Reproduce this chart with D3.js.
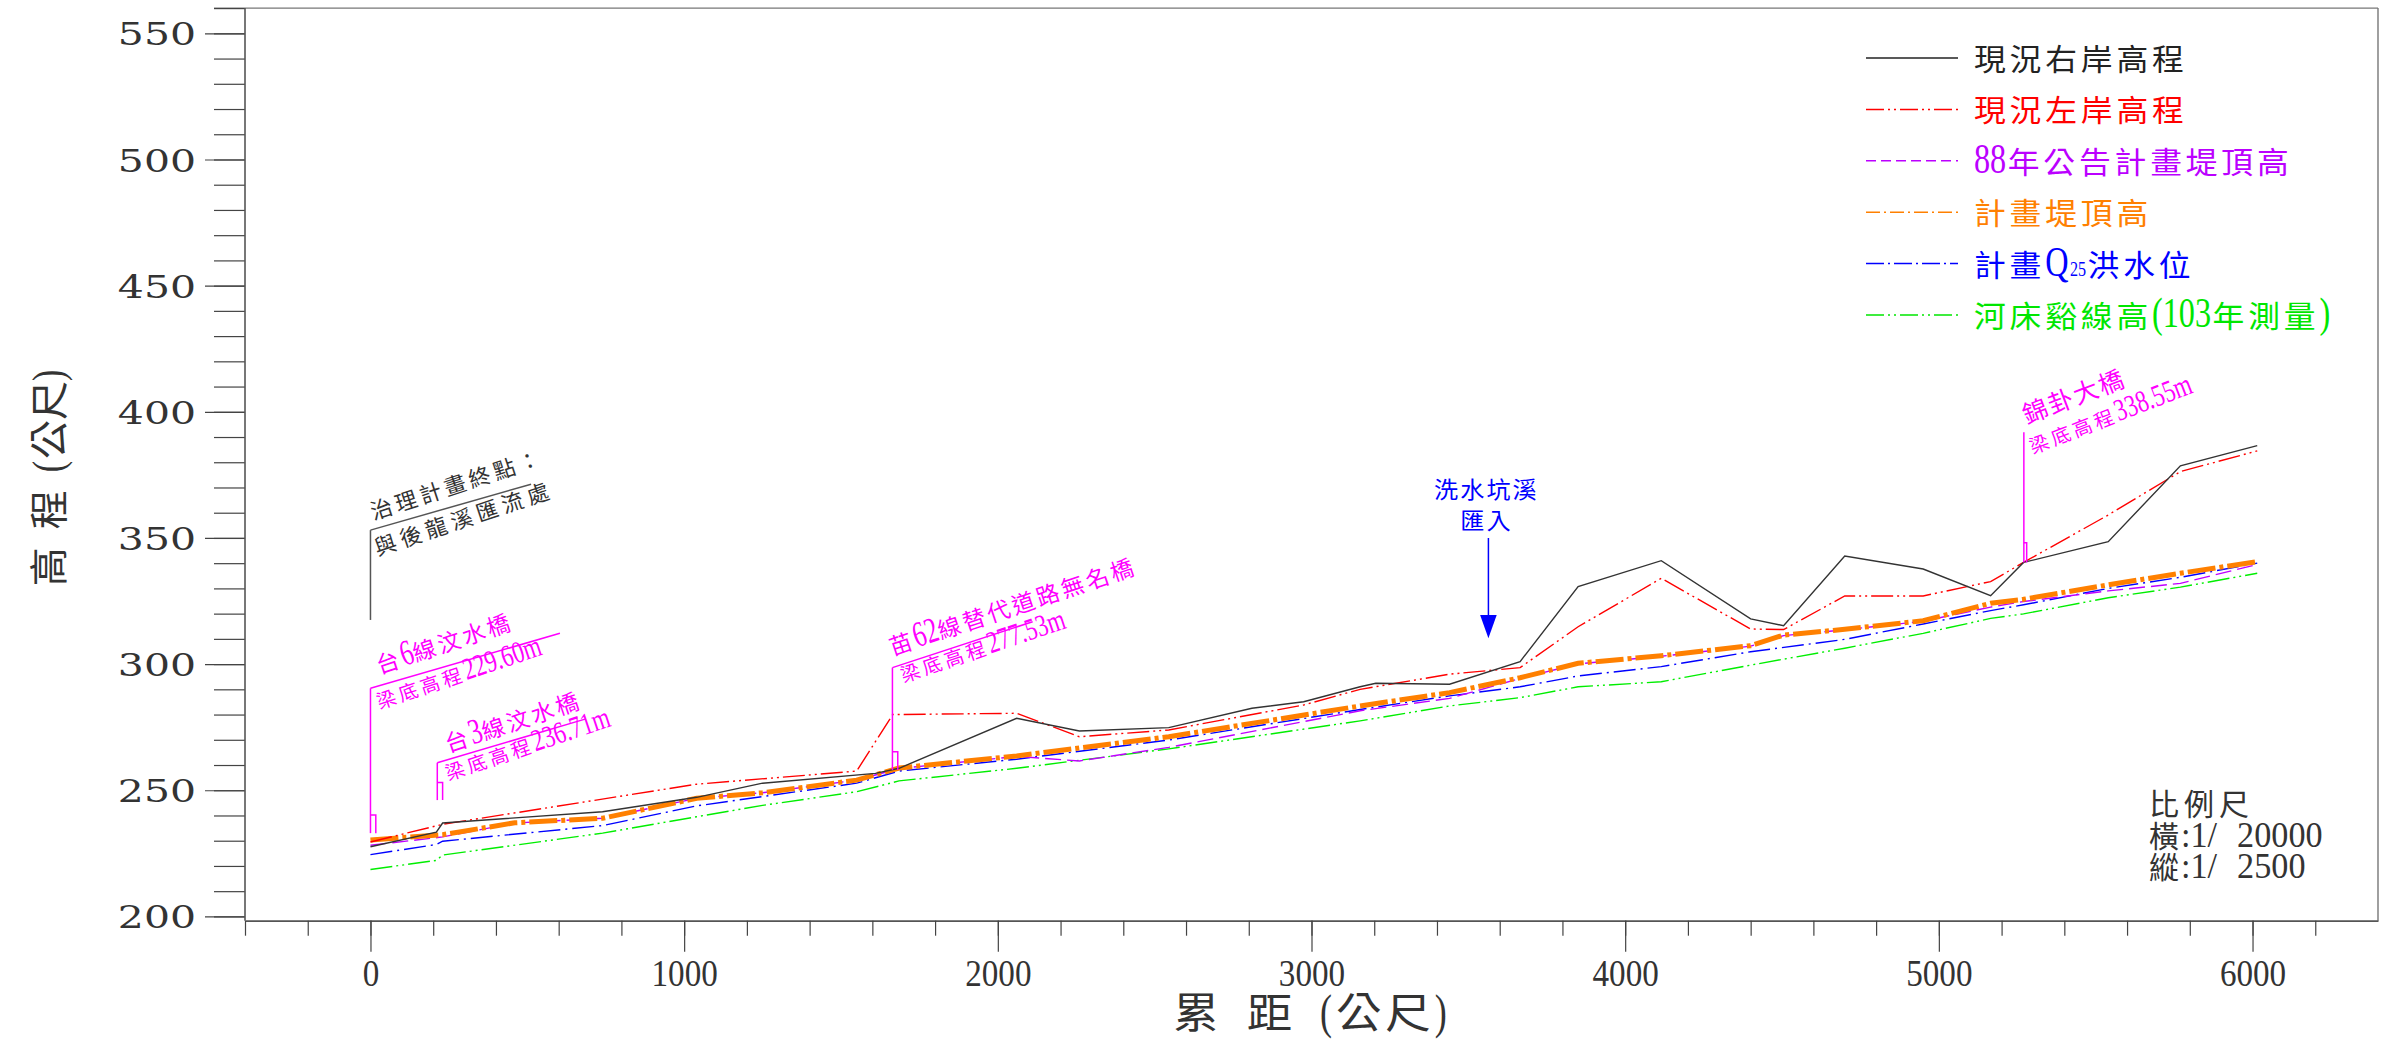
<!DOCTYPE html>
<html><head><meta charset="utf-8">
<script src="https://cdn.jsdelivr.net/npm/d3@7"></script>
<style>html,body{margin:0;padding:0;background:#fff;} svg{display:block;}</style>
</head><body>
<svg id="chart" width="2383" height="1044"></svg>
<script>
// ---------------- DATA ----------------
// 現況右岸高程
const rightBankDist = [0, 210, 230, 740, 1040, 1250, 1610, 1685, 2060, 2260, 2545, 2810, 2975, 3155, 3205, 3440, 3665, 3850, 4115, 4400, 4505, 4700, 4950, 5165, 5270, 5540, 5770, 6015];
const rightBankElev = [227.6, 233.4, 237.0, 241.5, 247.2, 252.8, 256.7, 258.7, 278.5, 273.5, 274.8, 282.5, 285.1, 291.0, 292.4, 292.0, 301.0, 330.7, 341.0, 317.9, 315.2, 342.8, 337.7, 327.1, 340.3, 348.5, 378.6, 386.6];
// 現況左岸高程
const leftBankDist = [0, 230, 1040, 1550, 1665, 2060, 2260, 2545, 2975, 3155, 3440, 3665, 3850, 4115, 4400, 4505, 4700, 4950, 5165, 5270, 5540, 5770, 6015];
const leftBankElev = [229.5, 236.5, 252.4, 257.6, 280.0, 280.5, 271.2, 273.9, 283.8, 290.0, 296.0, 298.6, 314.8, 334.0, 313.9, 313.7, 327.0, 327.0, 332.7, 340.3, 359.1, 376.3, 384.5];
// 88年公告計畫堤頂高
const levee88Dist = [0, 230, 460, 740, 1040, 1250, 1550, 1685, 2060, 2260, 2545, 3155, 3440, 3665, 3850, 4115, 4400, 4505, 4700, 4950, 5165, 5270, 5540, 5770, 6015];
const levee88Elev = [228.2, 231.5, 237.0, 238.9, 246.8, 249.0, 254.0, 258.6, 263.4, 261.6, 267.0, 281.5, 286.4, 294.3, 300.1, 303.1, 307.1, 311.3, 313.6, 317.0, 322.6, 324.8, 329.0, 332.0, 339.5];
// 計畫堤頂高
const leveeDist = [0, 230, 460, 740, 1040, 1250, 1550, 1685, 2060, 2545, 3155, 3440, 3665, 3850, 4115, 4400, 4505, 4700, 4950, 5165, 5270, 5540, 5770, 6015];
const leveeElev = [230.3, 232.4, 237.1, 238.9, 246.8, 249.0, 254.0, 258.8, 263.6, 271.2, 283.4, 288.7, 294.6, 300.3, 303.3, 307.3, 311.5, 313.8, 317.2, 324.1, 325.7, 331.4, 336.0, 340.6];
// 計畫Q25洪水位
const floodDist = [0, 210, 230, 740, 1040, 1250, 1550, 1685, 2060, 2545, 3155, 3440, 3665, 3850, 4115, 4400, 4700, 4950, 5165, 5270, 5540, 5770, 6015];
const floodElev = [224.5, 228.5, 229.8, 236.0, 243.8, 247.5, 252.8, 257.6, 262.3, 269.9, 282.0, 287.4, 291.0, 295.3, 299.0, 304.9, 309.8, 315.9, 321.2, 323.5, 330.0, 334.4, 340.0];
// 河床谿線高(103年測量)
const bedDist = [0, 210, 230, 740, 1040, 1250, 1550, 1685, 2060, 2545, 3155, 3440, 3665, 3850, 4115, 4400, 4700, 4950, 5165, 5270, 5540, 5770, 6015];
const bedElev = [218.6, 222.2, 224.3, 233.0, 239.5, 244.0, 249.4, 253.7, 258.7, 266.4, 277.5, 283.4, 286.7, 291.0, 293.0, 299.6, 306.3, 312.2, 318.1, 319.9, 326.3, 330.5, 336.0];

const legendNames = ['現況右岸高程', '現況左岸高程', '88年公告計畫堤頂高', '計畫堤頂高', '計畫Q_25洪水位', '河床谿線高(103年測量)'];
const yTickValues = [200, 250, 300, 350, 400, 450, 500, 550];
const xTickValues = [0, 1000, 2000, 3000, 4000, 5000, 6000];

const bridgeNames = ['台6線汶水橋', '台3線汶水橋', '苗62線替代道路無名橋', '錦卦大橋'];
const bridgeSoffit = ['梁底高程229.60m', '梁底高程236.71m', '梁底高程277.53m', '梁底高程338.55m'];
const bridgeStation = [0, 213, 1664, 5271];
const endNote = ['治理計畫終點：', '與後龍溪匯流處'];
const tributary = ['洗水坑溪', '匯入'];
const tributaryStation = 3564;
const scaleNote = ['比例尺', '橫:1/ 20000', '縱:1/ 2500'];

// ---------------- LAYOUT / STYLE ----------------
const CJK = "'Noto Sans CJK TC','Noto Sans CJK SC','Noto Sans CJK JP',sans-serif";
const LAT = "'Liberation Serif','DejaVu Serif',serif";

const svg = d3.select('#chart');
svg.append('rect').attr('width', 2383).attr('height', 1044).attr('fill', '#fff');

const x = d3.scaleLinear().domain([-400, 6400]).range([245, 2378]);
const y = d3.scaleLinear().domain([200, 560]).range([916.4, 8.1]);
const AX_Y = 920.7;

function rich(parent, str, o) {
  const outer = parent.append('g').attr('transform', `translate(${o.x},${o.y})` + (o.rot ? ` rotate(${o.rot})` : ''));
  const g = outer.append('g');
  const sx = o.cjkSX ?? 1, lsx = o.latSX ?? 1, ls = o.ls ?? 0, lls = o.lls ?? 0;
  const chars = Array.from(str);
  let cx = 0, i = 0, sub = false;
  while (i < chars.length) {
    const ch = chars[i];
    if (ch === '_') { sub = true; i++; continue; }
    if (ch === ' ') { cx += o.space ?? 10; i++; continue; }
    if (ch.codePointAt(0) > 0x2000) {
      g.append('text').attr('transform', `translate(${cx},0) scale(${sx},1)`)
        .attr('font-family', CJK).attr('font-size', o.cjk).attr('fill', o.fill).text(ch);
      cx += o.cjk * sx + ls; i++;
    } else {
      let run = '';
      while (i < chars.length && chars[i] !== ' ' && chars[i] !== '_' && chars[i].codePointAt(0) <= 0x2000) { run += chars[i]; i++; }
      const size = sub ? o.lat * 0.5 : o.lat;
      const t = g.append('text').attr('transform', `translate(${cx},0) scale(${lsx},1)`)
        .attr('font-family', o.latFont ?? LAT).attr('font-size', size).attr('fill', o.fill).text(run);
      cx += t.node().getComputedTextLength() * lsx + lls;
      sub = false;
    }
  }
  if (o.anchor === 'middle') g.attr('transform', `translate(${-cx / 2},0)`);
  if (o.anchor === 'end') g.attr('transform', `translate(${-cx},0)`);
  return cx;
}

// ---------------- FRAME & AXES ----------------
svg.append('line').attr('x1', 214).attr('x2', 2378).attr('y1', y(560)).attr('y2', y(560)).attr('stroke', '#777').attr('stroke-width', 1.4);
svg.append('line').attr('x1', 2378).attr('x2', 2378).attr('y1', y(560)).attr('y2', AX_Y).attr('stroke', '#777').attr('stroke-width', 1.4);

const gyMinor = svg.append('g').attr('transform', 'translate(245,0)')
  .call(d3.axisLeft(y).tickValues(d3.range(200, 561, 10)).tickSize(31).tickSizeOuter(0).tickFormat(''));
gyMinor.select('.domain').remove();
const gyMajor = svg.append('g').attr('transform', 'translate(245,0)')
  .call(d3.axisLeft(y).tickValues(yTickValues).tickSize(40).tickPadding(9));
gyMajor.select('.domain').remove();
const ySX = 1.28;
gyMajor.selectAll('text').attr('font-family', "'DejaVu Serif',serif").attr('font-size', 32).attr('fill', '#333')
  .attr('x', -49 / ySX).attr('dy', '0.36em').attr('transform', `scale(${ySX},1)`).attr('text-anchor', 'end');
svg.append('line').attr('x1', 245).attr('x2', 245).attr('y1', y(560)).attr('y2', AX_Y).attr('stroke', '#555').attr('stroke-width', 1.6);

const gxMinor = svg.append('g').attr('transform', `translate(0,${AX_Y})`)
  .call(d3.axisBottom(x).tickValues(d3.range(-400, 6201, 200)).tickSize(15).tickSizeOuter(0).tickFormat(''));
gxMinor.select('.domain').attr('stroke', '#555').attr('stroke-width', 1.8);
const gxMajor = svg.append('g').attr('transform', `translate(0,${AX_Y})`)
  .call(d3.axisBottom(x).tickValues(xTickValues).tickSize(31).tickFormat(d3.format('d')));
gxMajor.select('.domain').remove();
const xSX = 0.85;
gxMajor.selectAll('text').attr('font-family', LAT).attr('font-size', 39).attr('fill', '#333')
  .attr('y', 37.6).attr('transform', `scale(${xSX},1)`);
svg.selectAll('.tick line').attr('stroke', '#444').attr('stroke-width', 1.2);

// axis titles
rich(svg, '累 距 (公尺)', { x: 1312, y: 1028, cjk: 42, cjkSX: 1.08, ls: 4, lat: 48, latSX: 0.75, lls: 4, space: 24, fill: '#333', anchor: 'middle' });
rich(svg, '高 程 (公尺)', { x: 63, y: 477, rot: -90, cjk: 39, cjkSX: 1.0, ls: 0, lat: 45, latSX: 0.75, lls: 2, space: 18, fill: '#333', anchor: 'middle' });

// ---------------- SERIES ----------------
const zip = (a, b) => a.map((d, i) => [d, b[i]]);
const series = [
  { pts: zip(bedDist, bedElev), color: '#00ee00', dash: '22,4,2,4,2,4', w: 1.4 },
  { pts: zip(floodDist, floodElev), color: '#0000ff', dash: '22,5,2,5', w: 1.4 },
  { pts: zip(levee88Dist, levee88Elev), color: '#bf00ff', dash: '16,6', w: 1.4 },
  { pts: zip(leveeDist, leveeElev), color: '#ff8000', dash: '28,4,4,4', w: 5 },
  { pts: zip(leftBankDist, leftBankElev), color: '#ff0000', dash: '22,4,2,4,2,4', w: 1.4 },
  { pts: zip(rightBankDist, rightBankElev), color: '#333333', dash: null, w: 1.4 }
];
const line = d3.line().x(d => x(d[0])).y(d => y(d[1]));
series.forEach(s => {
  svg.append('path').attr('d', line(s.pts)).attr('fill', 'none').attr('stroke', s.color)
    .attr('stroke-width', s.w).attr('stroke-dasharray', s.dash);
});

// ---------------- LEGEND ----------------
const legendColors = ['#222222', '#ff0000', '#bb00ff', '#ff8000', '#0000ff', '#00e600'];
const legendDash = [null, '18,4,2,4,2,4', '10,5', '14,4,2,4', '18,4,2,4', '18,4,2,4,2,4'];
legendNames.forEach((name, i) => {
  const cy = 58 + i * 51.4;
  svg.append('line').attr('x1', 1866).attr('x2', 1958).attr('y1', cy).attr('y2', cy)
    .attr('stroke', legendColors[i]).attr('stroke-width', 1.5).attr('stroke-dasharray', legendDash[i]);
  rich(svg, name, { x: 1974, y: cy + 12, cjk: 30, cjkSX: 1.06, ls: 3.8, lat: 43, latSX: 0.75, lls: 1.5, fill: legendColors[i] });
});

// ---------------- ANNOTATIONS ----------------
const MAG = '#ff00ff';
// [bottom elev, box top elev, leader start elev, leader end station, leader end elev, box width m]
const bridgeGeom = [
  [233.0, 240.2, 290.4, 604, 312.2, 17],
  [246.1, 253.1, 260.9, 684, 278.2, 17],
  [258.0, 265.3, 298.6, 2111, 316.8, 17],
  [340.3, 348.1, 391.9, null, null, 9]
];
const bridgeTextOff = [[9, -14, 9, 21], [11, -10, 11, 18], [0, -12, 11, 15], [3, -8, 9, 22]];
bridgeStation.forEach((st, i) => {
  const gm = bridgeGeom[i];
  const bx = x(st), by = y(gm[2]);
  svg.append('line').attr('x1', bx).attr('x2', bx).attr('y1', y(gm[0])).attr('y2', by).attr('stroke', MAG).attr('stroke-width', 1.5);
  svg.append('path').attr('d', `M${bx},${y(gm[1])}H${x(st + gm[5])}V${y(gm[0])}`).attr('fill', 'none').attr('stroke', MAG).attr('stroke-width', 1.5);
  if (gm[3] !== null) {
    svg.append('line').attr('x1', bx).attr('y1', by).attr('x2', x(gm[3])).attr('y2', y(gm[4])).attr('stroke', MAG).attr('stroke-width', 1.5);
  }
  const off = bridgeTextOff[i];
  const rot = i === 3 ? -21 : -18.5;
  const big = i === 3 ? { cjk: 25, ls: 2 } : { cjk: 23, ls: 3 };
  rich(svg, bridgeNames[i], { x: bx + off[0], y: by + off[1], rot, cjk: big.cjk, ls: big.ls, lat: 36, latSX: 0.7, fill: MAG });
  rich(svg, bridgeSoffit[i], { x: bx + off[2], y: by + off[3], rot, cjk: 19.5, ls: 3.5, lat: 31, latSX: 0.74, fill: MAG });
});

// end-of-reach note
{
  const bx = x(0), by = y(353.1);
  svg.append('line').attr('x1', bx).attr('x2', bx).attr('y1', y(317.5)).attr('y2', by).attr('stroke', '#555').attr('stroke-width', 1.5);
  svg.append('line').attr('x1', bx).attr('y1', by).attr('x2', x(512)).attr('y2', y(371.3)).attr('stroke', '#555').attr('stroke-width', 1.5);
  rich(svg, endNote[0], { x: bx + 3, y: by - 10, rot: -18, cjk: 22, ls: 3.8, lat: 26, fill: '#333' });
  rich(svg, endNote[1], { x: bx + 7, y: by + 26, rot: -18.5, cjk: 22, ls: 4.8, lat: 26, fill: '#333' });
}

// tributary inflow
{
  const ax = x(tributaryStation);
  rich(svg, tributary[0], { x: ax - 2, y: 498, cjk: 23, cjkSX: 1.05, ls: 2, lat: 26, fill: '#0000ff', anchor: 'middle' });
  rich(svg, tributary[1], { x: ax - 2, y: 529, cjk: 23, cjkSX: 1.05, ls: 2, lat: 26, fill: '#0000ff', anchor: 'middle' });
  svg.append('line').attr('x1', ax).attr('x2', ax).attr('y1', 538).attr('y2', 618).attr('stroke', '#0000ff').attr('stroke-width', 1.5);
  svg.append('path').attr('d', `M${ax - 8.3},615L${ax + 8.3},615L${ax},638.3Z`).attr('fill', '#0000ff');
}

// scale note
rich(svg, scaleNote[0], { x: 2149, y: 815, cjk: 30, ls: 5, lat: 36, latSX: 0.95, fill: '#333' });
rich(svg, scaleNote[1], { x: 2149, y: 847, cjk: 30, ls: 2, lat: 36, latSX: 0.95, space: 20, fill: '#333' });
rich(svg, scaleNote[2], { x: 2149, y: 878, cjk: 30, ls: 2, lat: 36, latSX: 0.95, space: 20, fill: '#333' });
</script>
</body></html>
